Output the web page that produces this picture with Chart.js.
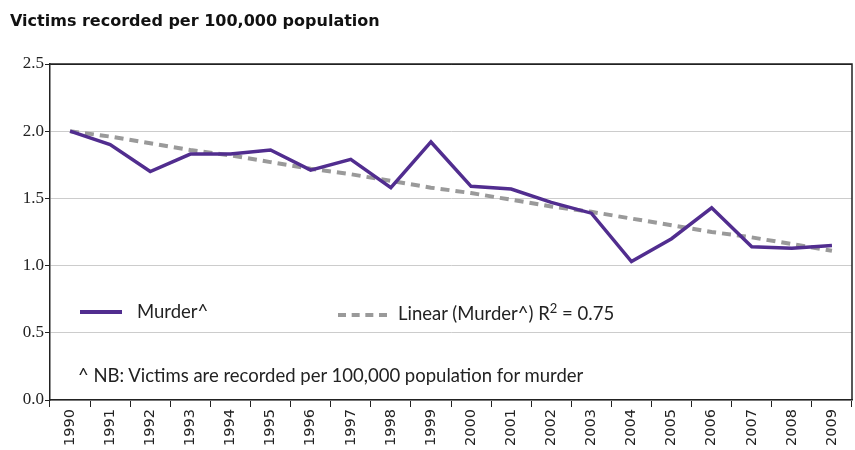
<!DOCTYPE html>
<html>
<head>
<meta charset="utf-8">
<script src="https://cdn.jsdelivr.net/npm/chart.js@4"></script>
<style>
  html, body { margin: 0; padding: 0; background: #fff; }
  #wrap { position: relative; width: 855px; height: 450px; }
  #title { position: absolute; left: 10px; top: 11px; font: bold 16px "DejaVu Sans", sans-serif; color: #111; }
  .leg { position: absolute; font: 18.5px Lato, sans-serif; color: #222; white-space: nowrap; }
  .swatch { position: absolute; height: 0; }
</style>
</head>
<body>
<div id="wrap">
  <canvas id="c" width="855" height="450"></canvas>
  <div id="title">Victims recorded per 100,000 population</div>
  <div class="swatch" style="left:80px; top:310px; width:42px; border-top:4px solid #512d8f;"></div>
  <div class="leg" style="left:137px; top:300px;">Murder^</div>
  <div class="swatch" style="left:338px; top:313px; width:49px; border-top:4px dashed #9a9a9a;"></div>
  <div class="leg" style="left:398px; top:300px;">Linear (Murder^) R<sup style="font-size:13px;">2</sup> = 0.75</div>
  <div class="leg" style="left:78px; top:364px;">^ NB: Victims are recorded per 100,000 population for murder</div>
</div>
<script>
// values
var years = ['1990', '1991', '1992', '1993', '1994', '1995', '1996', '1997', '1998', '1999',
             '2000', '2001', '2002', '2003', '2004', '2005', '2006', '2007', '2008', '2009'];
var murder = [2.00, 1.90, 1.70, 1.83, 1.83, 1.86, 1.71, 1.79, 1.58, 1.92,
              1.59, 1.57, 1.47, 1.39, 1.03, 1.20, 1.43, 1.14, 1.13, 1.15];
var trend = [2.00, 1.96, 1.91, 1.86, 1.82, 1.77, 1.72, 1.68, 1.63, 1.58,
             1.54, 1.49, 1.44, 1.40, 1.35, 1.30, 1.25, 1.21, 1.16, 1.11];
var yTicks = [0, 0.5, 1.0, 1.5, 2.0, 2.5];

// top and right frame of the plot area
var frame = {
    id: 'frame',
    afterDatasetsDraw: function (chart) {
        var a = chart.chartArea, ctx = chart.ctx;
        ctx.save();
        ctx.strokeStyle = '#222';
        ctx.lineWidth = 1.5;
        ctx.beginPath();
        ctx.moveTo(a.left, a.top);
        ctx.lineTo(a.right, a.top);
        ctx.lineTo(a.right, a.bottom);
        ctx.stroke();
        ctx.restore();
    }
};

new Chart(document.getElementById('c'), {
    type: 'line',
    data: {
        labels: years,
        datasets: [
            {
                label: 'Linear (Murder^) R2 = 0.75',
                data: trend,
                borderColor: '#9a9a9a',
                borderWidth: 4,
                borderDash: [9, 6],
                pointRadius: 0,
                tension: 0,
                order: 2
            },
            {
                label: 'Murder^',
                data: murder,
                borderColor: '#512d8f',
                borderWidth: 3.5,
                pointRadius: 0,
                tension: 0,
                order: 1
            }
        ]
    },
    options: {
        responsive: false,
        animation: false,
        layout: { padding: { top: 64, right: 3, left: 0, bottom: 0 } },
        plugins: { legend: { display: false }, tooltip: { enabled: false } },
        scales: {
            x: {
                offset: true,
                grid: { offset: true, drawOnChartArea: false, color: '#222', tickLength: 7 },
                border: { color: '#222', width: 1.5 },
                ticks: {
                    autoSkip: false, minRotation: 90, maxRotation: 90, padding: 2,
                    color: '#222', font: { family: 'DejaVu Sans', size: 14.5 }
                },
                afterFit: function (s) { s.height = 50; }
            },
            y: {
                min: 0,
                max: 2.5,
                afterBuildTicks: function (s) {
                    s.ticks = yTicks.map(function (v) { return { value: v }; });
                },
                grid: {
                    color: function (c) { return c.tick && c.tick.value === 2.5 ? '#222' : '#cccccc'; },
                    tickColor: '#222',
                    tickLength: 5
                },
                border: { color: '#222', width: 1.5 },
                ticks: {
                    padding: 1,
                    color: '#222',
                    font: { family: 'Liberation Serif', size: 17 },
                    callback: function (v) { return v.toFixed(1); }
                },
                afterFit: function (s) { s.width = 50; }
            }
        }
    },
    plugins: [frame]
});
</script>
</body>
</html>
